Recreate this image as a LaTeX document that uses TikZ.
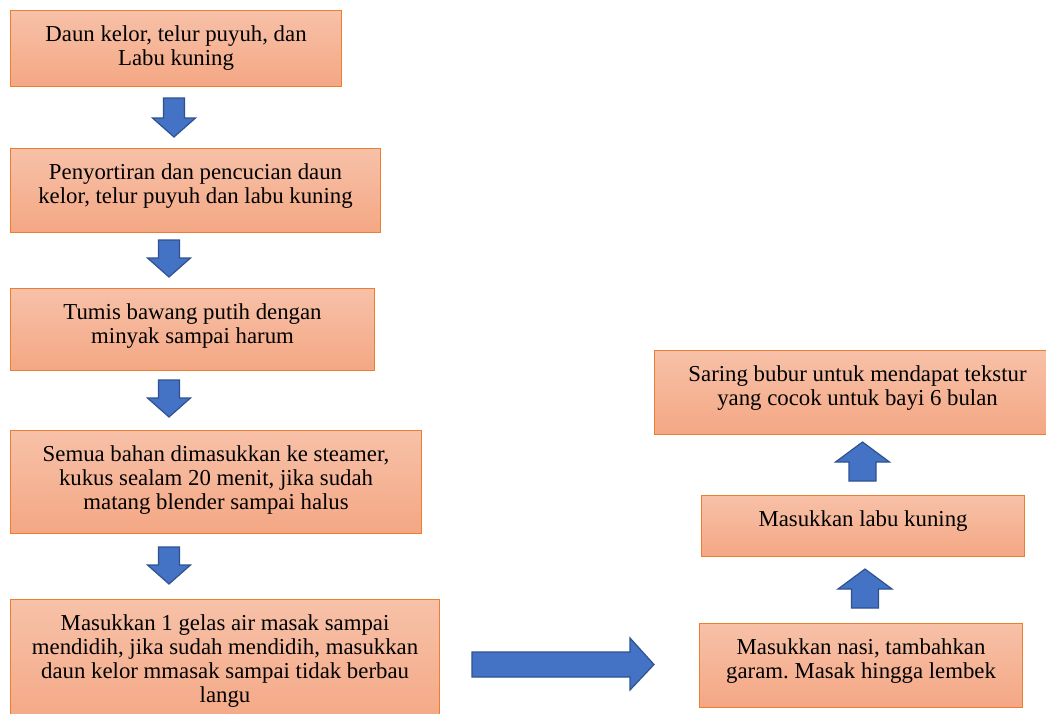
\documentclass[tikz,border=0pt]{standalone}
\usepackage{fontspec}
\setmainfont{Liberation Serif}
\frenchspacing
\definecolor{boxtop}{RGB}{247,193,168}
\definecolor{boxbot}{RGB}{244,167,132}
\definecolor{boxline}{RGB}{237,125,49}
\definecolor{arrfill}{RGB}{68,114,196}
\definecolor{arrline}{RGB}{47,82,143}
\tikzset{
  procbox/.style={rectangle, draw=boxline, line width=1.1pt, top color=boxtop, bottom color=boxbot, inner sep=0pt, anchor=north west},
  txt/.style={align=center, inner sep=0pt, anchor=north, font=\fontsize{22.8}{24.3}\selectfont},
  blk/.style={draw=arrline, fill=arrfill, line width=1.2pt, line join=miter}
}
\newcommand\blkdown[3]{%
  \draw[blk] (#1-10.5,#2) -- (#1+10.5,#2) -- (#1+10.5,#3-19) -- (#1+21.5,#3-19) -- (#1,#3) -- (#1-21.5,#3-19) -- (#1-10.5,#3-19) -- cycle;}
\newcommand\blkup[3]{%
  \draw[blk] (#1-13.5,#2) -- (#1+13.5,#2) -- (#1+13.5,#3+20) -- (#1+27,#3+20) -- (#1,#3) -- (#1-27,#3+20) -- (#1-13.5,#3+20) -- cycle;}
\begin{document}
\begin{tikzpicture}[x=1pt,y=-1pt]
\clip (0,0) rectangle (1046,713);
\fill[white] (0,0) rectangle (1046,713);
% left column boxes
\node[procbox, minimum width=331pt, minimum height=76pt] (b1) at (10,10) {};
\node[procbox, minimum width=370pt, minimum height=84pt] (b2) at (10,148) {};
\node[procbox, minimum width=364pt, minimum height=82pt] (b3) at (10,288) {};
\node[procbox, minimum width=411pt, minimum height=103pt] (b4) at (10,430) {};
\node[procbox, minimum width=429pt, minimum height=130pt] (b5) at (10,599) {};
% right column boxes
\node[procbox, minimum width=323pt, minimum height=84pt] (b6) at (699,623) {};
\node[procbox, minimum width=323pt, minimum height=61pt] (b7) at (701,495) {};
\node[procbox, minimum width=406pt, minimum height=84pt] (b8) at (654,350) {};
% texts
\node[txt] (t1) at ([yshift=-15pt]b1.north) {Daun kelor, telur puyuh, dan\\Labu kuning};
\node[txt] (t2) at ([yshift=-15pt]b2.north) {Penyortiran dan pencucian daun\\kelor, telur puyuh dan labu kuning};
\node[txt] (t3) at ([yshift=-15pt]b3.north) {Tumis bawang putih dengan\\minyak sampai harum};
\node[txt] (t4) at ([yshift=-15pt]b4.north) {Semua bahan dimasukkan ke steamer,\\kukus sealam 20 menit, jika sudah\\matang blender sampai halus};
\node[txt] (t5) at ([yshift=-15pt]b5.north) {Masukkan 1 gelas air masak sampai\\mendidih, jika sudah mendidih, masukkan\\daun kelor mmasak sampai tidak berbau\\langu};
\node[txt] (t6) at ([yshift=-15pt]b6.north) {Masukkan nasi, tambahkan\\garam. Masak hingga lembek};
\node[txt] (t7) at ([yshift=-15pt]b7.north) {Masukkan labu kuning};
\node[txt] (t8) at ([yshift=-15pt]b8.north) {Saring bubur untuk mendapat tekstur\\yang cocok untuk bayi 6 bulan};
% block arrows
\blkdown{174}{98}{137}
\blkdown{169}{240}{277}
\blkdown{169}{380}{417}
\blkdown{169}{547}{584}
\draw[blk] (472,652) -- (630,652) -- (630,638) -- (654,664.5) -- (630,690) -- (630,677) -- (472,677) -- cycle;
\blkup{865}{608}{569}
\blkup{862.5}{481}{442}
\end{tikzpicture}
\end{document}
